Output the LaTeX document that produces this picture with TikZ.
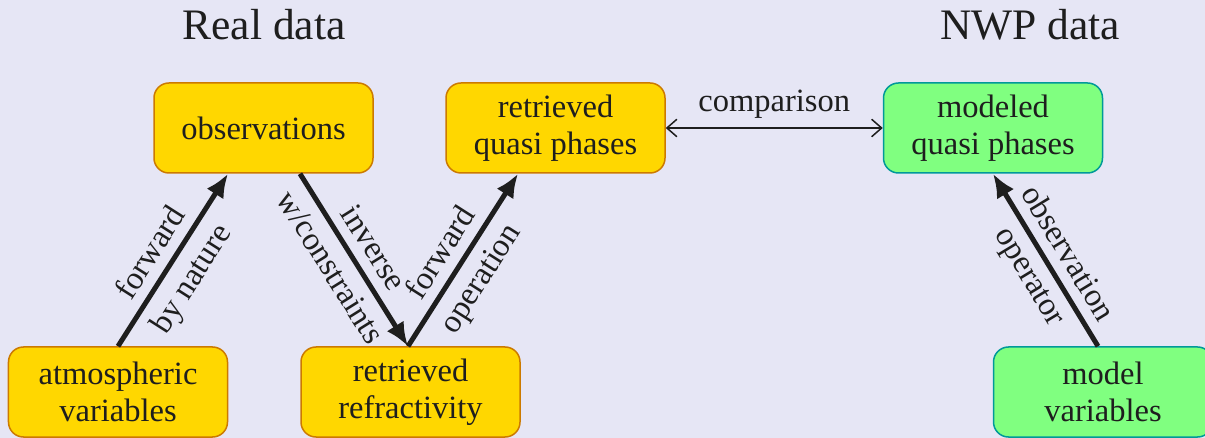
\documentclass[tikz,border=0pt]{standalone}
\usepackage{fontspec}
\setmainfont{Liberation Serif}
\usetikzlibrary{arrows.meta}
\definecolor{bg}{RGB}{230,230,245}
\definecolor{yfill}{RGB}{255,215,0}
\definecolor{ydraw}{RGB}{204,122,0}
\definecolor{gfill}{RGB}{128,255,128}
\definecolor{gdraw}{RGB}{0,153,153}
\definecolor{ink}{RGB}{30,30,30}
\begin{document}
\begin{tikzpicture}[x=0.4pt,y=-0.4pt,
 box/.style={rounded corners=6pt, minimum width=87.6pt, minimum height=36pt, align=center, font=\fontsize{13}{14.6}\selectfont, line width=0.6pt, text=ink, inner sep=2pt},
 ybox/.style={box, fill=yfill, draw=ydraw},
 gbox/.style={box, fill=gfill, draw=gdraw},
 big/.style={line width=2pt, draw=ink, -{Latex[length=9.5pt,width=8pt]}},
 thinarr/.style={line width=0.6pt, draw=ink, {Straight Barb[length=4pt,width=7pt]}-{Straight Barb[length=4pt,width=7pt]}},
 lab/.style={font=\fontsize{13}{14.6}\selectfont, text=ink, sloped, pos=0.47, inner sep=4pt},
 title/.style={font=\fontsize{17.4}{20}\selectfont, text=ink}]
\fill[bg] (0,0) rectangle (1205,438);
\clip (0,0) rectangle (1205,438);
\node[title] (tr) at (264,25) {Real data};
\node[title] (tn) at (1030,25) {NWP data};
\node[ybox] (obs) at (263.5,128) {observations};
\node[ybox] (rqp) at (555.5,128) {retrieved\\quasi phases};
\node[gbox] (mqp) at (993,128) {modeled\\quasi phases};
\node[ybox] (atm) at (118,392) {atmospheric\\variables};
\node[ybox] (ref) at (410.5,392) {retrieved\\refractivity};
\node[gbox] (mv) at (1103,392) {model\\variables};
\draw[big] (atm.north) -- ([xshift=-14.2pt]obs.south) node[lab,above]{forward} node[lab,below]{by nature};
\draw[big] ([xshift=14.6pt]obs.south) -- ([xshift=-1pt]ref.north) node[lab,pos=0.5,above]{inverse} node[lab,pos=0.47,below]{w/constraints};
\draw[big] ([xshift=-1pt]ref.north) -- ([xshift=-15pt]rqp.south) node[lab,above]{forward} node[lab,below]{operation};
\draw[big] ([xshift=-2pt]mv.north) -- (mqp.south) node[lab,above]{observation} node[lab,below]{operator};
\draw[thinarr] (rqp.east) -- (mqp.west) node[midway,above,font=\fontsize{13}{14.6}\selectfont,text=ink]{comparison};
\end{tikzpicture}
\end{document}
